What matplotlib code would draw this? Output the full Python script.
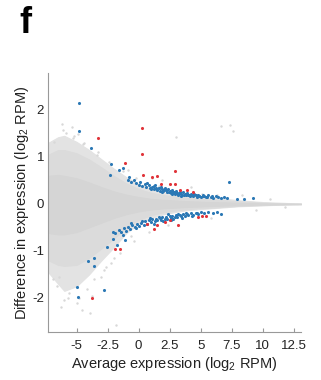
import matplotlib
matplotlib.use("Agg")
import matplotlib.pyplot as plt

plt.rcParams['font.family'] = ['Liberation Sans', 'DejaVu Sans']
plt.rcParams['mathtext.fontset'] = 'custom'
plt.rcParams['mathtext.rm'] = 'Liberation Sans'
plt.rcParams['axes.unicode_minus'] = False

# envelope of the grey cloud (all miRNAs): sparse edge, dense body, core
cloud_x = [-7.3, -6.5, -6.0, -5.0, -4.0, -3.0, -2.0, -1.0, 0, 1, 2, 3, 4, 5, 6, 7, 8, 9, 10, 11, 12, 13.1]
outer_hi = [1.3, 1.42, 1.45, 1.32, 1.15, 0.95, 0.75, 0.57, 0.42, 0.32, 0.25, 0.21, 0.18, 0.15, 0.13, 0.11, 0.08, 0.06, 0.04, 0.03, 0.02, 0.012]
outer_lo = [-1.45, -1.7, -1.85, -1.75, -1.5, -1.2, -0.92, -0.62, -0.42, -0.3, -0.22, -0.17, -0.13, -0.11, -0.09, -0.07, -0.05, -0.04, -0.03, -0.02, -0.012, -0.01]
body_hi = [1.05, 1.15, 1.15, 1.08, 0.95, 0.78, 0.6, 0.44, 0.32, 0.24, 0.19, 0.16, 0.13, 0.11, 0.09, 0.08, 0.06, 0.045, 0.03, 0.02, 0.015, 0.008]
body_lo = [-1.2, -1.3, -1.32, -1.3, -1.15, -0.95, -0.74, -0.5, -0.34, -0.24, -0.18, -0.14, -0.11, -0.09, -0.08, -0.06, -0.045, -0.035, -0.025, -0.018, -0.01, -0.006]
core_hi = [0.6, 0.62, 0.6, 0.55, 0.46, 0.36, 0.27, 0.2, 0.15, 0.11, 0.09, 0.075, 0.06, 0.05, 0.04, 0.035, 0.025, 0.02, 0.015, 0.01, 0.008, 0.005]
core_lo = [-0.62, -0.65, -0.65, -0.6, -0.5, -0.4, -0.3, -0.22, -0.16, -0.12, -0.095, -0.08, -0.065, -0.055, -0.045, -0.035, -0.028, -0.02, -0.015, -0.01, -0.008, -0.005]

# scattered grey points outside the cloud
grey_x = [-6.2, -5.4, -4.9, 3.0, 6.6, 7.4, 7.6, -1.8, -3.9, -5.0, -5.6, -6.4, -6.8, -5.9, -4.4, -3.3, -2.6, -2.2,
          -0.4, 0.8, 1.9, 2.4, 4.2, 5.8, 8.3, 9.5, 10.6, 11.8, -3.0, -4.6, -6.0, -5.2, 1.1, -0.9,
          -6.6, -5.7, -4.2, -3.6, -2.8, -1.5, -6.9, -6.1, -5.3, -4.5, -3.4, -2.4, -1.3, -0.2, 0.6, 1.6,
          -6.3, -4.8, -3.8, -2.0, -0.6, 3.8, 5.1, 6.3]
grey_y = [1.71, 1.63, 1.48, 1.43, 1.66, 1.68, 1.55, -2.58, -2.33, -2.1, -1.9, -1.55, 1.32, 1.52, 1.3, 1.1, -1.35, -1.25,
          -0.78, -0.6, 0.5, -0.45, 0.36, -0.3, 0.2, -0.12, 0.1, -0.06, -1.55, -2.25, -2.05, 1.45, 0.55, 0.72,
          -1.75, -2.0, -1.8, -1.6, -1.4, -1.05, -1.6, 1.58, 1.4, 1.28, 1.05, 0.9, 0.7, 0.55, 0.45, 0.38,
          -2.2, -2.0, -1.95, -1.15, -0.68, -0.24, 0.22, 0.19]

# significant miRNAs (blue)
blue_x = [-0.9, -0.6, -0.4, -0.2, 0.0, 0.1, 0.3, 0.5, 0.6, 0.8, 0.9, 1.1, 1.2, 1.3, 1.4, 1.5, 1.6, 1.7, 1.8, 1.9,
          2.0, 2.1, 2.2, 2.3, 2.4, 2.5, 2.6, 2.7, 2.8, 2.9, 3.0, 3.1, 3.2, 3.3, 3.4, 3.5, 3.6, 3.7, 3.8, 3.9,
          4.0, 4.1, 4.2, 4.3, 4.4, 4.5, 4.6, 4.7, 4.8, 4.9, 5.0, 5.2, 5.3, 5.5, 5.6, 5.8, 6.0, 6.2, 6.4, 6.6,
          6.9, 7.1,
          0.7, 1.25, 1.65, 2.05, 2.45, 2.85, 3.25, 3.65, 4.05, 4.45, 4.85, 5.15, 5.45, 5.9, 1.0, 1.9, 2.65, 3.45,
          -1.9, -1.6, -1.4, -1.2, -1.0, -0.9, -0.7, -0.5, -0.3, -0.1, 0.0, 0.2, 0.4, 0.5, 0.7, 0.8, 1.0, 1.1,
          1.3, 1.4, 1.5, 1.7, 1.8, 1.9, 2.1, 2.2, 2.3, 2.5, 2.6, 2.7, 2.9, 3.0, 3.1, 3.3, 3.4, 3.6, 3.7, 3.9,
          4.0, 4.2, 4.4, 4.6, 4.8, 5.0, 5.3, 5.6, 6.0, 6.3, 6.6,
          -0.6, 0.3, 0.9, 1.6, 2.0, 2.4, 2.8, 3.2, 3.5, 3.8, 4.3, 4.7, -1.3, -0.2, 1.2, 2.6,
          -4.83, -4.83, -3.86, -2.24, -1.6, -1.24, -2.3, -0.76, 7.3, -2.05, -1.78, -2.59, -4.07, -3.61, -3.59,
          -2.8, -4.96, -4.88, -1.1, -2.05, 7.9, 8.5, 9.2]
blue_y = [0.52, 0.47, 0.5, 0.44, 0.41, 0.47, 0.39, 0.42, 0.36, 0.4, 0.34, 0.37, 0.32, 0.4, 0.35, 0.3, 0.33, 0.28, 0.36, 0.31,
          0.27, 0.33, 0.29, 0.25, 0.31, 0.27, 0.23, 0.29, 0.25, 0.21, 0.27, 0.24, 0.2, 0.26, 0.22, 0.19, 0.25, 0.21, 0.18, 0.23,
          0.2, 0.17, 0.22, 0.19, 0.16, 0.21, 0.18, 0.15, 0.2, 0.17, 0.15, 0.19, 0.16, 0.14, 0.18, 0.15, 0.13, 0.17, 0.14, 0.12,
          0.15, 0.12,
          0.44, 0.38, 0.34, 0.3, 0.26, 0.25, 0.23, 0.2, 0.18, 0.18, 0.16, 0.17, 0.15, 0.16, 0.31, 0.25, 0.21, 0.17,
          -0.62, -0.55, -0.6, -0.52, -0.57, -0.48, -0.53, -0.45, -0.5, -0.43, -0.47, -0.4, -0.44, -0.37, -0.42, -0.35, -0.39, -0.33,
          -0.37, -0.31, -0.35, -0.3, -0.34, -0.28, -0.32, -0.27, -0.31, -0.26, -0.3, -0.25, -0.28, -0.24, -0.27, -0.23, -0.26, -0.22, -0.25, -0.21,
          -0.24, -0.2, -0.23, -0.19, -0.22, -0.18, -0.2, -0.17, -0.19, -0.17, -0.21,
          -0.41, -0.36, -0.3, -0.27, -0.36, -0.22, -0.32, -0.21, -0.3, -0.19, -0.25, -0.2, -0.66, -0.52, -0.42, -0.34,
          2.15, 1.55, 1.19, 0.86, 0.72, 0.76, 0.62, 0.57, 0.47, -0.74, -0.88, -0.92, -1.22, -1.16, -1.32,
          -1.84, -1.77, -1.98, -0.77, -0.6, 0.1, 0.1, 0.13]

# significant and validated (red)
red_x = [0.24, 0.29, -1.1, -3.27, 0.37, 1.05, 1.5, 2.93, 1.78, 2.53, 2.93, 3.88, 4.41, 3.34,
         -1.92, -1.5, -3.78, 1.26, 1.45, 3.2, 2.53, 2.1, 4.82, 5.09, 5.4, 0.65]
red_y = [1.62, 1.06, 0.87, 1.41, 0.62, 0.57, 0.6, 0.71, 0.43, 0.42, 0.42, 0.29, 0.26, 0.29,
         -0.96, -0.96, -2.01, -0.54, -0.44, -0.45, -0.35, -0.38, -0.28, -0.25, -0.26, -0.42]

fig = plt.figure(figsize=(3.21, 3.80), dpi=100)
ax = fig.add_axes([0.15, 0.127, 0.788, 0.68])

ax.fill_between(cloud_x, outer_lo, outer_hi, color='#e3e3e3', lw=0.8, edgecolor='#e3e3e3')
ax.fill_between(cloud_x, body_lo, body_hi, color='#dbdbdb', lw=0.6, edgecolor='#dbdbdb')
ax.fill_between(cloud_x, core_lo, core_hi, color='#d5d5d5', lw=0.6, edgecolor='#d5d5d5')
ax.scatter(grey_x, grey_y, s=3, color='#d8d8d8', lw=0)
ax.scatter(blue_x, blue_y, s=5, color='#2b78b5', lw=0)
ax.scatter(red_x, red_y, s=5, color='#e0343a', lw=0)

ax.set_xlim(-7.3, 13.1)
ax.set_ylim(-2.72, 2.78)
ax.set_xticks([-5, -2.5, 0, 2.5, 5, 7.5, 10, 12.5])
ax.set_xticklabels(['-5', '-2.5', '0', '2.5', '5', '7.5', '10', '12.5'])
ax.set_yticks([-2, -1, 0, 1, 2])
ax.tick_params(axis='x', direction='in', length=3, color='#999999', labelsize=9.5, pad=6, labelcolor='#222222')
ax.tick_params(axis='y', length=0, labelsize=9.5, pad=3, labelcolor='#222222')
for side in ['top', 'right']:
    ax.spines[side].set_visible(False)
for side in ['left', 'bottom']:
    ax.spines[side].set_color('#999999')
    ax.spines[side].set_linewidth(0.8)

ax.set_xlabel('Average expression (log$_2$ RPM)', fontsize=10.5, color='#222222', labelpad=2)
ax.set_ylabel('Difference in expression (log$_2$ RPM)', fontsize=10.5, color='#222222')
ax.yaxis.set_label_coords(-0.068, 0.5)

fig.text(0.06, 0.985, 'f', fontsize=26, fontweight='bold', va='top', ha='left')

fig.savefig('out.png', dpi=100)
